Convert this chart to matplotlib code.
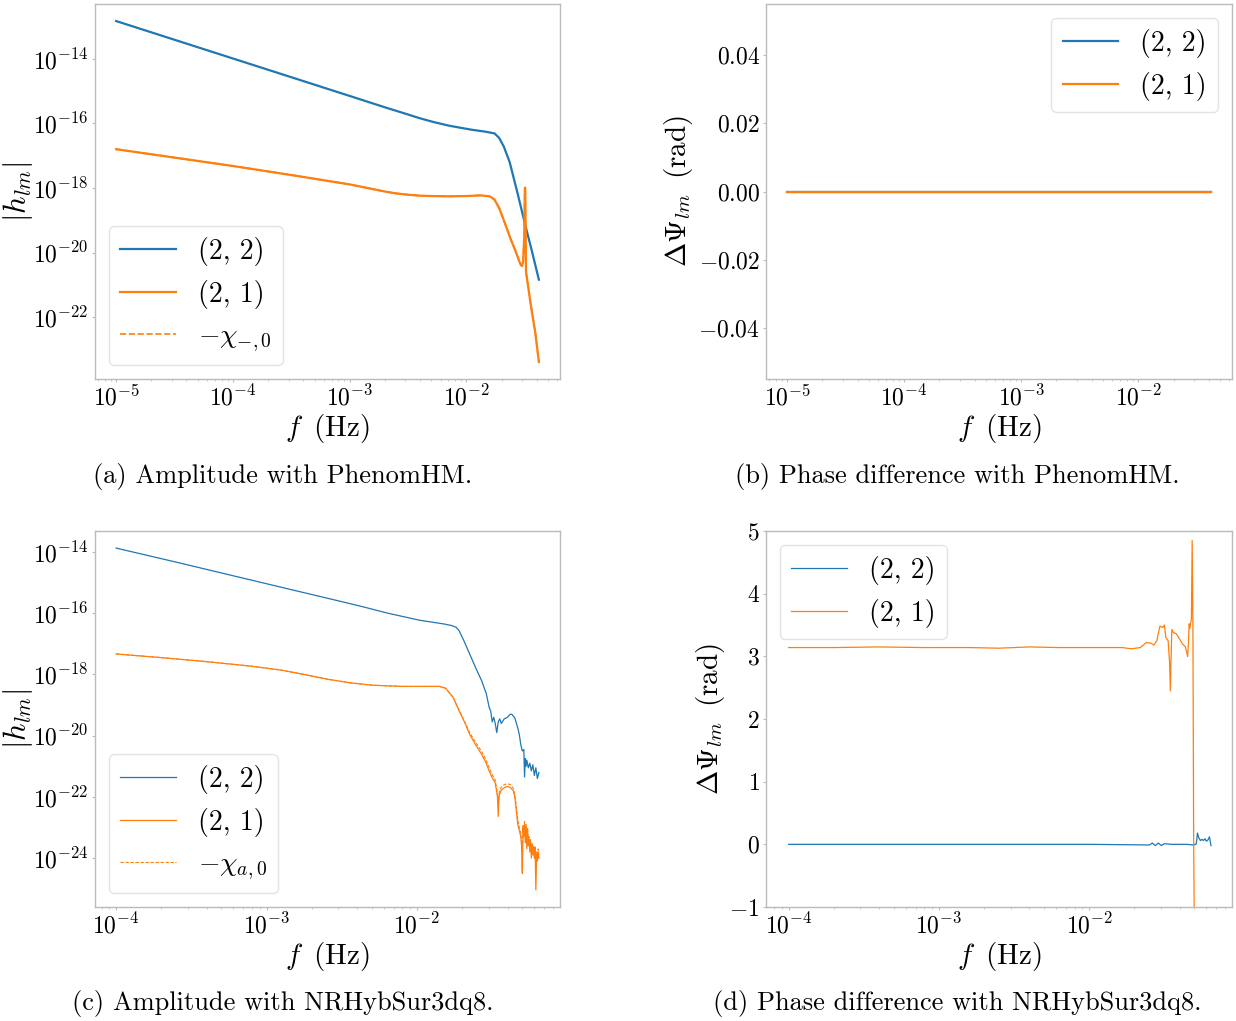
import numpy as np
import matplotlib
matplotlib.use("Agg")
import matplotlib.pyplot as plt

plt.rcParams.update({
    "font.family": "serif",
    "font.serif": ["cmr10"],
    "mathtext.fontset": "cm",
    "axes.formatter.use_mathtext": True,
    "axes.unicode_minus": True,
    "axes.edgecolor": "#bbbbbb",
    "axes.linewidth": 1.0,
    "xtick.color": "#bbbbbb",
    "ytick.color": "#bbbbbb",
    "xtick.labelcolor": "black",
    "ytick.labelcolor": "black",
    "xtick.major.size": 2.5,
    "ytick.major.size": 2.5,
    "xtick.minor.size": 1.5,
    "ytick.minor.size": 1.5,
})

C_BLUE = "#1f77b4"
C_ORANGE = "#ff7f0e"

# ---------------- Panel (a): PhenomHM amplitude (log10 values) ----------------
a_f22 = [-5.0, -4.5, -4.0, -3.5, -3.0, -2.7, -2.54, -2.4, -2.28, -2.15, -2.06, -1.95,
         -1.85, -1.76, -1.72, -1.68, -1.63, -1.56, -1.50, -1.44, -1.38]
a_h22 = [-12.83, -13.41, -13.99, -14.57, -15.15, -15.50, -15.68, -15.84, -15.96, -16.07,
         -16.13, -16.2, -16.25, -16.31, -16.45, -16.72, -17.2, -18.2, -19.1, -19.95, -20.84]
a_f21 = [-5.0, -4.5, -4.0, -3.5, -3.0, -2.85, -2.7, -2.6, -2.5, -2.4, -2.3, -2.15, -2.0,
         -1.88, -1.80, -1.76, -1.72, -1.67, -1.62, -1.58, -1.55, -1.535, -1.525, -1.515,
         -1.505, -1.500, -1.497, -1.493, -1.49, -1.45, -1.41, -1.38]
a_h21 = [-16.80, -17.06, -17.32, -17.60, -17.89, -18.0, -18.11, -18.17, -18.21, -18.24,
         -18.25, -18.26, -18.25, -18.23, -18.26, -18.36, -18.62, -19.1, -19.6, -19.95,
         -20.25, -20.38, -20.42, -20.3, -19.5, -18.0, -17.99, -19.5, -20.6, -21.6, -22.5,
         -23.39]
a_fchi = a_f21
a_hchi = a_h21

# ---------------- Panel (b): PhenomHM phase difference ----------------
b_f = [-5.0, -4.0, -3.0, -2.0, -1.38]
b_d22 = [0.0, 0.0, 0.0, 0.0, 0.0]
b_d21 = [0.0, 0.0, 0.0, 0.0, 0.0]

# ---------------- Panel (c): NRHybSur3dq8 amplitude (log10 values) ----------------
c_f22 = [-4.0, -3.6, -3.2, -2.8, -2.5, -2.35, -2.2, -2.10, -1.98, -1.90, -1.82, -1.77,
         -1.74, -1.72, -1.69, -1.65, -1.61, -1.57, -1.54, -1.52, -1.51, -1.50, -1.49,
         -1.48, -1.47, -1.46, -1.45, -1.44, -1.42, -1.40, -1.38, -1.37, -1.35, -1.33,
         -1.32, -1.31, -1.30, -1.29, -1.285, -1.28, -1.275, -1.27, -1.26, -1.25, -1.24,
         -1.23, -1.22, -1.21, -1.20, -1.19]
c_h22 = [-13.87, -14.33, -14.80, -15.27, -15.62, -15.80, -15.99, -16.10, -16.23, -16.29,
         -16.35, -16.40, -16.46, -16.57, -16.88, -17.33, -17.78, -18.21, -18.62, -19.08,
         -19.2, -19.55, -19.4, -19.6, -19.9, -19.55, -19.45, -19.6, -19.45, -19.40, -19.30,
         -19.30, -19.42, -19.75, -19.96, -20.3, -20.5, -20.45, -21.35, -20.75, -21.0, -20.8,
         -21.05, -20.9, -21.15, -20.95, -21.3, -21.05, -21.4, -21.2]
c_f21 = [-4.0, -3.7, -3.4, -3.1, -2.9, -2.75, -2.6, -2.45, -2.3, -2.1, -1.85, -1.81, -1.76,
         -1.72, -1.68, -1.65, -1.61, -1.57, -1.54, -1.52, -1.50, -1.48, -1.47, -1.465,
         -1.46, -1.455, -1.45, -1.44, -1.42, -1.40, -1.38, -1.36, -1.35, -1.34, -1.33,
         -1.32, -1.31, -1.305, -1.30, -1.295, -1.29, -1.285, -1.28, -1.275, -1.27, -1.265,
         -1.26, -1.255, -1.25, -1.245, -1.24, -1.235, -1.23, -1.225, -1.22, -1.215, -1.21,
         -1.205, -1.20, -1.195, -1.19]
c_h21 = [-17.33, -17.45, -17.58, -17.73, -17.86, -18.0, -18.15, -18.27, -18.35, -18.39,
         -18.39, -18.45, -18.75, -19.19, -19.6, -19.96, -20.3, -20.61, -20.9, -21.16,
         -21.38, -21.55, -21.85, -22.0, -22.64, -22.0, -21.9, -21.78, -21.70, -21.66,
         -21.69, -21.80, -22.0, -22.45, -22.9, -23.1, -23.3, -23.6, -24.5, -23.0, -23.3,
         -22.9, -23.5, -23.0, -23.7, -23.1, -23.6, -23.4, -23.8, -23.5, -24.0, -23.6,
         -23.9, -23.7, -24.0, -23.7, -25.04, -23.9, -24.1, -23.8, -24.0]
c_fchi = c_f21
c_hchi = [-17.33, -17.45, -17.58, -17.73, -17.86, -18.0, -18.15, -18.27, -18.35, -18.39,
          -18.39, -18.45, -18.74, -19.17, -19.57, -19.9, -20.22, -20.52, -20.8, -21.05,
          -21.28, -21.45, -21.75, -21.9, -22.3, -21.9, -21.8, -21.68, -21.6, -21.57,
          -21.6, -21.72, -21.92, -22.3, -22.75, -23.0, -23.2, -23.45, -23.8, -22.9,
          -23.15, -22.8, -23.3, -22.9, -23.5, -23.0, -23.45, -23.3, -23.6, -23.4, -23.8,
          -23.5, -23.7, -23.6, -23.85, -23.6, -24.3, -23.8, -24.0, -23.7, -23.9]

# ---------------- Panel (d): NRHybSur3dq8 phase difference ----------------
d_f22 = [-4.0, -3.5, -3.0, -2.5, -2.0, -1.6, -1.58, -1.56, -1.54, -1.52, -1.50, -1.45,
         -1.40, -1.35, -1.31, -1.29, -1.285, -1.28, -1.27, -1.26, -1.25, -1.24, -1.23,
         -1.22, -1.21, -1.20, -1.19]
d_d22 = [0.0, 0.0, 0.0, 0.0, 0.0, -0.01, 0.02, -0.02, 0.02, -0.02, 0.01, 0.0, 0.0, 0.0,
         -0.01, 0.0, 0.05, 0.18, 0.1, 0.06, 0.08, 0.06, 0.09, 0.05, 0.07, 0.12, -0.02]
d_f21 = [-4.0, -3.7, -3.4, -3.1, -2.8, -2.6, -2.4, -2.2, -2.0, -1.85, -1.78, -1.72, -1.66,
         -1.62, -1.59, -1.57, -1.55, -1.53, -1.51, -1.50, -1.49, -1.475, -1.465, -1.46,
         -1.455, -1.45, -1.44, -1.42, -1.40, -1.38, -1.36, -1.35, -1.345, -1.34, -1.335,
         -1.33, -1.32, -1.315, -1.31, -1.305, -1.30, -1.295]
d_d21 = [3.14, 3.14, 3.15, 3.14, 3.14, 3.13, 3.15, 3.14, 3.14, 3.14, 3.14, 3.12, 3.14,
         3.22, 3.21, 3.18, 3.25, 3.48, 3.46, 3.50, 3.3, 3.25, 2.9, 2.45, 3.0, 3.43, 3.38,
         3.36, 3.28, 3.20, 3.15, 3.05, 3.0, 3.2, 3.52, 3.45, 3.6, 4.85, 3.5, 0.0, -1.5, -1.6]


def style_axes(ax):
    ax.tick_params(axis="both", which="both", labelsize=17, pad=2)
    for s in ax.spines.values():
        s.set_color("#bbbbbb")


fig = plt.figure(figsize=(12.36, 10.21), dpi=100)
W, H = 1236.0, 1021.0


def add_ax(x0, y0, x1, y1):
    return fig.add_axes([x0 / W, 1 - y1 / H, (x1 - x0) / W, (y1 - y0) / H])


leg_kw = dict(fontsize=20, framealpha=0.8, edgecolor="#dddddd", fancybox=True)
XLAB = r"$f\,$ (Hz)"
PLAB = r"$\Delta\Psi_{lm}\,$ (rad)"
HLAB = r"$|h_{lm}|$"

# (a)
ax = add_ax(95, 4, 560, 379)
ax.loglog(10 ** np.array(a_f22), 10 ** np.array(a_h22), color=C_BLUE, lw=1.6, label="(2, 2)")
ax.loglog(10 ** np.array(a_f21), 10 ** np.array(a_h21), color=C_ORANGE, lw=1.6, label="(2, 1)")
ax.loglog(10 ** np.array(a_fchi), 10 ** np.array(a_hchi), color=C_ORANGE, lw=1.2, ls="--",
          label=r"$-\chi_{-,0}$")
ax.set_xticks([1e-5, 1e-4, 1e-3, 1e-2])
ax.set_yticks([1e-14, 1e-16, 1e-18, 1e-20, 1e-22])
ax.yaxis.set_minor_locator(matplotlib.ticker.NullLocator())
ax.set_xlabel(XLAB, fontsize=21, labelpad=1)
ax.set_ylabel(HLAB, fontsize=22)
ax.yaxis.set_label_coords(-0.128, 0.5)
style_axes(ax)
ax.legend(loc="lower left", **leg_kw)

# (b)
ax = add_ax(766, 4, 1232, 379)
ax.semilogx(10 ** np.array(b_f), b_d22, color=C_BLUE, lw=1.6, label="(2, 2)")
ax.semilogx(10 ** np.array(b_f), b_d21, color=C_ORANGE, lw=1.6, label="(2, 1)")
ax.set_xlim(10 ** -5.18, 10 ** -1.2)
ax.set_ylim(-0.055, 0.055)
ax.set_xticks([1e-5, 1e-4, 1e-3, 1e-2])
ax.set_yticks([-0.04, -0.02, 0.0, 0.02, 0.04])
ax.set_xlabel(XLAB, fontsize=21, labelpad=1)
ax.set_ylabel(PLAB, fontsize=21, labelpad=2)
style_axes(ax)
ax.legend(loc="upper right", **leg_kw)

# (c)
ax = add_ax(95, 531, 560, 907)
ax.loglog(10 ** np.array(c_f22), 10 ** np.array(c_h22), color=C_BLUE, lw=0.9, label="(2, 2)")
ax.loglog(10 ** np.array(c_f21), 10 ** np.array(c_h21), color=C_ORANGE, lw=0.9, label="(2, 1)")
ax.loglog(10 ** np.array(c_fchi), 10 ** np.array(c_hchi), color=C_ORANGE, lw=0.8, ls="--",
          dashes=(3, 1.5), label=r"$-\chi_{a,0}$")
ax.set_xticks([1e-4, 1e-3, 1e-2])
ax.set_yticks([1e-14, 1e-16, 1e-18, 1e-20, 1e-22, 1e-24])
ax.yaxis.set_minor_locator(matplotlib.ticker.NullLocator())
ax.set_xlabel(XLAB, fontsize=21, labelpad=1)
ax.set_ylabel(HLAB, fontsize=22)
ax.yaxis.set_label_coords(-0.128, 0.5)
style_axes(ax)
ax.legend(loc="lower left", **leg_kw)

# (d)
ax = add_ax(766, 531, 1232, 907)
ax.semilogx(10 ** np.array(d_f22), d_d22, color=C_BLUE, lw=0.9, label="(2, 2)")
ax.semilogx(10 ** np.array(d_f21), d_d21, color=C_ORANGE, lw=0.9, label="(2, 1)")
ax.set_xlim(10 ** -4.15, 10 ** -1.05)
ax.set_ylim(-1, 5)
ax.set_xticks([1e-4, 1e-3, 1e-2])
ax.set_yticks([-1, 0, 1, 2, 3, 4, 5])
ax.set_xlabel(XLAB, fontsize=21, labelpad=1)
ax.set_ylabel(PLAB, fontsize=21, labelpad=2)
style_axes(ax)
ax.legend(loc="upper left", **leg_kw)

# captions
cap_kw = dict(fontsize=19, ha="center", va="center")
fig.text(283 / W, 1 - 477 / H, "(a) Amplitude with PhenomHM.", **cap_kw)
fig.text(957 / W, 1 - 477 / H, "(b) Phase difference with PhenomHM.", **cap_kw)
fig.text(283 / W, 1 - 1003 / H, "(c) Amplitude with NRHybSur3dq8.", **cap_kw)
fig.text(957 / W, 1 - 1003 / H, "(d) Phase difference with NRHybSur3dq8.", **cap_kw)

fig.savefig("out.png", dpi=100)
